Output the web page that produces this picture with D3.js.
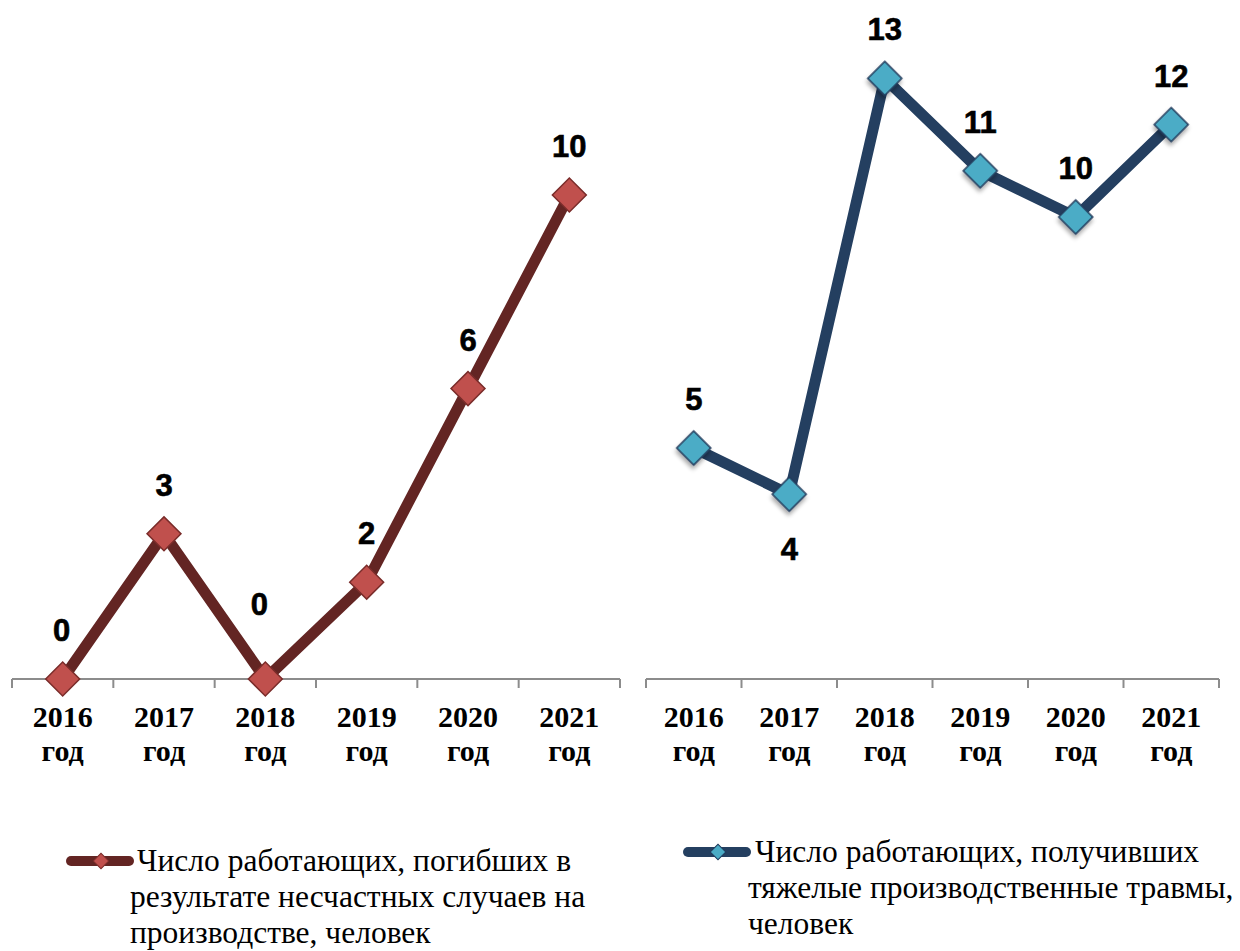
<!DOCTYPE html>
<html>
<head>
<meta charset="utf-8">
<script src="https://cdn.jsdelivr.net/npm/d3@7"></script>
<style>
  body { margin: 0; background: #fff; }
  svg { display: block; }
</style>
</head>
<body>
<svg id="chart" width="1240" height="951"></svg>
<script>
// data
var years = ["2016", "2017", "2018", "2019", "2020", "2021"];
var deaths = [0, 3, 0, 2, 6, 10];
var injuries = [5, 4, 13, 11, 10, 12];
var legendDeaths = ["Число работающих, погибших в", "результате несчастных случаев на", "производстве, человек"];
var legendInjuries = ["Число работающих, получивших", "тяжелые производственные травмы,", "человек"];

var serifFont = "'Liberation Serif', 'Times New Roman', Times, 'DejaVu Serif', serif";

var svg = d3.select("#chart");

var defs = svg.append("defs");
var shadow = defs.append("filter").attr("id", "shadow")
  .attr("x", "-50%").attr("y", "-50%").attr("width", "200%").attr("height", "200%");
shadow.append("feDropShadow")
  .attr("dx", 2).attr("dy", 3).attr("stdDeviation", 2)
  .attr("flood-color", "#000").attr("flood-opacity", 0.35);

var baseY = 679;

// left chart
var xL = d3.scaleBand().domain(years).range([12, 620]).padding(0);
var yL = d3.scaleLinear().domain([0, 12]).range([baseY, baseY - 12 * 48.4]);

// right chart
var xR = d3.scaleBand().domain(years).range([646, 1219]).padding(0);
var yR = d3.scaleLinear().domain([0, 14]).range([baseY, baseY - 14 * 46.2]);

function drawAxis(x) {
  var g = svg.append("g");
  var r = x.range();
  g.append("line")
    .attr("x1", r[0]).attr("x2", r[1])
    .attr("y1", baseY).attr("y2", baseY)
    .attr("stroke", "#8c8c8c").attr("stroke-width", 2);
  var ticks = years.map(d => x(d)).concat([r[1]]);
  g.selectAll("line.tick").data(ticks).enter().append("line")
    .attr("class", "tick")
    .attr("x1", d => d).attr("x2", d => d)
    .attr("y1", baseY).attr("y2", baseY + 9)
    .attr("stroke", "#8c8c8c").attr("stroke-width", 2);
  var lbl = g.selectAll("text").data(years).enter().append("text")
    .attr("x", d => x(d) + x.bandwidth() / 2)
    .attr("text-anchor", "middle")
    .style("font-family", serifFont)
    .attr("font-weight", "bold")
    .attr("font-size", 30)
    .attr("fill", "#000");
  lbl.append("tspan").attr("x", d => x(d) + x.bandwidth() / 2).attr("y", baseY + 48).text(d => d);
  lbl.append("tspan").attr("x", d => x(d) + x.bandwidth() / 2).attr("y", baseY + 82).text("год");
}

function drawSeries(x, y, values, lineColor, fillColor, strokeColor, useShadow, labelOffsets) {
  var cx = (d, i) => x(years[i]) + x.bandwidth() / 2;
  var line = d3.line().x((d, i) => cx(d, i)).y(d => y(d));
  svg.append("path")
    .datum(values)
    .attr("d", line)
    .attr("fill", "none")
    .attr("stroke", lineColor)
    .attr("stroke-width", 11)
    .attr("stroke-linejoin", "round");

  var sym = d3.symbol().type(d3.symbolSquare).size(24 * 24);
  svg.append("g").selectAll("path").data(values).enter().append("path")
    .attr("d", sym)
    .attr("transform", (d, i) => "translate(" + cx(d, i) + "," + y(d) + ") rotate(45)")
    .attr("fill", fillColor)
    .attr("stroke", strokeColor)
    .attr("stroke-width", 1.5)
    .attr("filter", useShadow ? "url(#shadow)" : null);

  svg.append("g").selectAll("text").data(values).enter().append("text")
    .attr("x", (d, i) => cx(d, i) + labelOffsets[i][0])
    .attr("y", (d, i) => y(d) + labelOffsets[i][1])
    .attr("text-anchor", "middle")
    .attr("font-family", "Liberation Sans, Arial, sans-serif")
    .attr("font-weight", "bold")
    .attr("font-size", 31)
    .attr("stroke", "#000")
    .attr("stroke-width", 0.6)
    .attr("fill", "#000")
    .text(d => d);
}

function drawLegend(x0, y0, lines, lineColor, fillColor, strokeColor, textX, indentX) {
  var g = svg.append("g");
  g.append("line")
    .attr("x1", x0).attr("x2", x0 + 58)
    .attr("y1", y0).attr("y2", y0)
    .attr("stroke", lineColor).attr("stroke-width", 10)
    .attr("stroke-linecap", "round");
  g.append("path")
    .attr("d", d3.symbol().type(d3.symbolSquare).size(11 * 11))
    .attr("transform", "translate(" + (x0 + 30) + "," + y0 + ") rotate(45)")
    .attr("fill", fillColor)
    .attr("stroke", strokeColor)
    .attr("stroke-width", 1);
  g.selectAll("text").data(lines).enter().append("text")
    .attr("x", (d, i) => i === 0 ? textX : indentX)
    .attr("y", (d, i) => y0 + 10 + i * 36)
    .style("font-family", serifFont)
    .attr("font-size", 31.5)
    .attr("fill", "#000")
    .text(d => d);
}

drawAxis(xL);
drawAxis(xR);

var offL = [[-1, -38], [0, -38], [-6, -64], [0, -38], [0, -38], [0, -38]];
var offR = [[0, -38], [0, 66], [0, -38], [0, -38], [0, -38], [0, -38]];

drawSeries(xL, yL, deaths, "#632523", "#c0504d", "#7a2c2a", false, offL);
drawSeries(xR, yR, injuries, "#243f60", "#4bacc6", "#1f3a5c", true, offR);

drawLegend(71, 861, legendDeaths, "#632523", "#c0504d", "#7a2c2a", 137, 130);
drawLegend(688, 852, legendInjuries, "#243f60", "#4bacc6", "#1f3a5c", 755, 748);
</script>
</body>
</html>
